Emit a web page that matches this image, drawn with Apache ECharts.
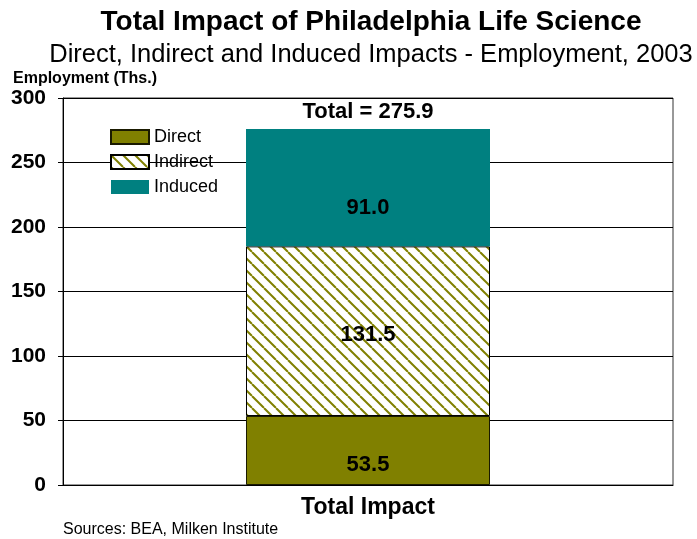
<!DOCTYPE html>
<html>
<head>
<meta charset="utf-8">
<script src="https://cdn.jsdelivr.net/npm/echarts@6/dist/echarts.min.js"></script>
<style>
  html, body { margin: 0; padding: 0; background: #fff; }
  #chart-container { width: 697px; height: 539px; }
</style>
</head>
<body>
<div id="chart-container"></div>
<script>
const categories = ['Total Impact'];
const direct = [53.5];
const indirect = [131.5];
const induced = [91.0];
const total = [275.9];   // as printed in the source (components are rounded)
const yTicks = [0, 50, 100, 150, 200, 250, 300];

const FONT = 'Arial, "Liberation Sans", sans-serif';

// hatch for the indirect series
function hatch() {
    const c = document.createElement('canvas');
    c.width = 12; c.height = 12;
    const ctx = c.getContext('2d');
    ctx.fillStyle = '#ffffff';
    ctx.fillRect(0, 0, 12, 12);
    ctx.strokeStyle = '#808000';
    ctx.lineWidth = 2;
    [-12, 0, 12].forEach(o => {
        ctx.beginPath();
        ctx.moveTo(o, 0);
        ctx.lineTo(o + 12, 12);
        ctx.stroke();
    });
    return c;
}

const myChart = echarts.init(document.getElementById('chart-container'));
const option = {
    animation: false,
    textStyle: { fontFamily: FONT },
    title: [
        {
            text: 'Total Impact of Philadelphia Life Science',
            left: 366, top: 3, textAlign: 'center',
            textStyle: { fontFamily: FONT, fontSize: 28, fontWeight: 'bold', color: '#000' }
        },
        {
            text: 'Direct, Indirect and Induced Impacts - Employment, 2003',
            left: 366, top: 37, textAlign: 'center',
            textStyle: { fontFamily: FONT, fontSize: 25.5, fontWeight: 'normal', color: '#000' }
        },
        {
            text: 'Employment (Ths.)',
            left: 8, top: 66,
            textStyle: { fontFamily: FONT, fontSize: 16, fontWeight: 'bold', color: '#000' }
        },
        {
            text: 'Sources: BEA, Milken Institute',
            left: 58, top: 517,
            textStyle: { fontFamily: FONT, fontSize: 16, fontWeight: 'normal', color: '#000' }
        }
    ],
    legend: {
        data: ['Direct', 'Indirect', 'Induced'],
        orient: 'vertical',
        left: 105, top: 123,
        itemWidth: 38, itemHeight: 14, itemGap: 7,
        icon: 'rect',
        textStyle: { fontFamily: FONT, fontSize: 18, color: '#000' }
    },
    grid: {
        left: 63, right: 24, top: 98, bottom: 54,
        show: true, borderColor: '#333', borderWidth: 1
    },
    xAxis: {
        type: 'category',
        data: categories,
        axisTick: { show: false },
        axisLine: { lineStyle: { color: '#000', width: 1 } },
        axisLabel: { fontFamily: FONT, fontSize: 23, fontWeight: 'bold', color: '#000', margin: 11 }
    },
    yAxis: {
        type: 'value',
        min: yTicks[0], max: yTicks[yTicks.length - 1], interval: 50,
        axisLine: { show: true, lineStyle: { color: '#000', width: 1 } },
        axisTick: { show: true, length: 5, lineStyle: { color: '#000' } },
        axisLabel: { fontFamily: FONT, fontSize: 21, fontWeight: 'bold', color: '#000', margin: 17 },
        splitLine: { lineStyle: { color: '#000', width: 1 } }
    },
    series: [
        {
            name: 'Direct', type: 'bar', stack: 'a', barWidth: '40%',
            data: direct,
            itemStyle: { color: '#808000', borderColor: '#1a1a00', borderWidth: 1 },
            label: { show: true, position: 'inside', offset: [0, 14], formatter: p => p.value.toFixed(1),
                fontFamily: FONT, fontSize: 22, fontWeight: 'bold', color: '#000' }
        },
        {
            name: 'Indirect', type: 'bar', stack: 'a',
            data: indirect,
            itemStyle: { color: { image: hatch(), repeat: 'repeat' }, borderColor: '#000', borderWidth: 1 },
            label: { show: true, position: 'inside', offset: [0, 4], formatter: p => p.value.toFixed(1),
                fontFamily: FONT, fontSize: 22, fontWeight: 'bold', color: '#000' }
        },
        {
            name: 'Induced', type: 'bar', stack: 'a',
            data: induced,
            itemStyle: { color: '#008080' },
            label: { show: true, position: 'inside', offset: [0, 20], formatter: p => p.value.toFixed(1),
                fontFamily: FONT, fontSize: 22, fontWeight: 'bold', color: '#000' }
        },
        {
            name: 'Total', type: 'bar', stack: 'a',
            data: total.map(() => 0),
            itemStyle: { color: 'transparent' },
            label: { show: true, position: 'top', distance: 6,
                formatter: p => 'Total = ' + total[p.dataIndex].toFixed(1),
                fontFamily: FONT, fontSize: 22, fontWeight: 'bold', color: '#000' }
        }
    ]
};

option && myChart.setOption(option);
</script>
</body>
</html>
